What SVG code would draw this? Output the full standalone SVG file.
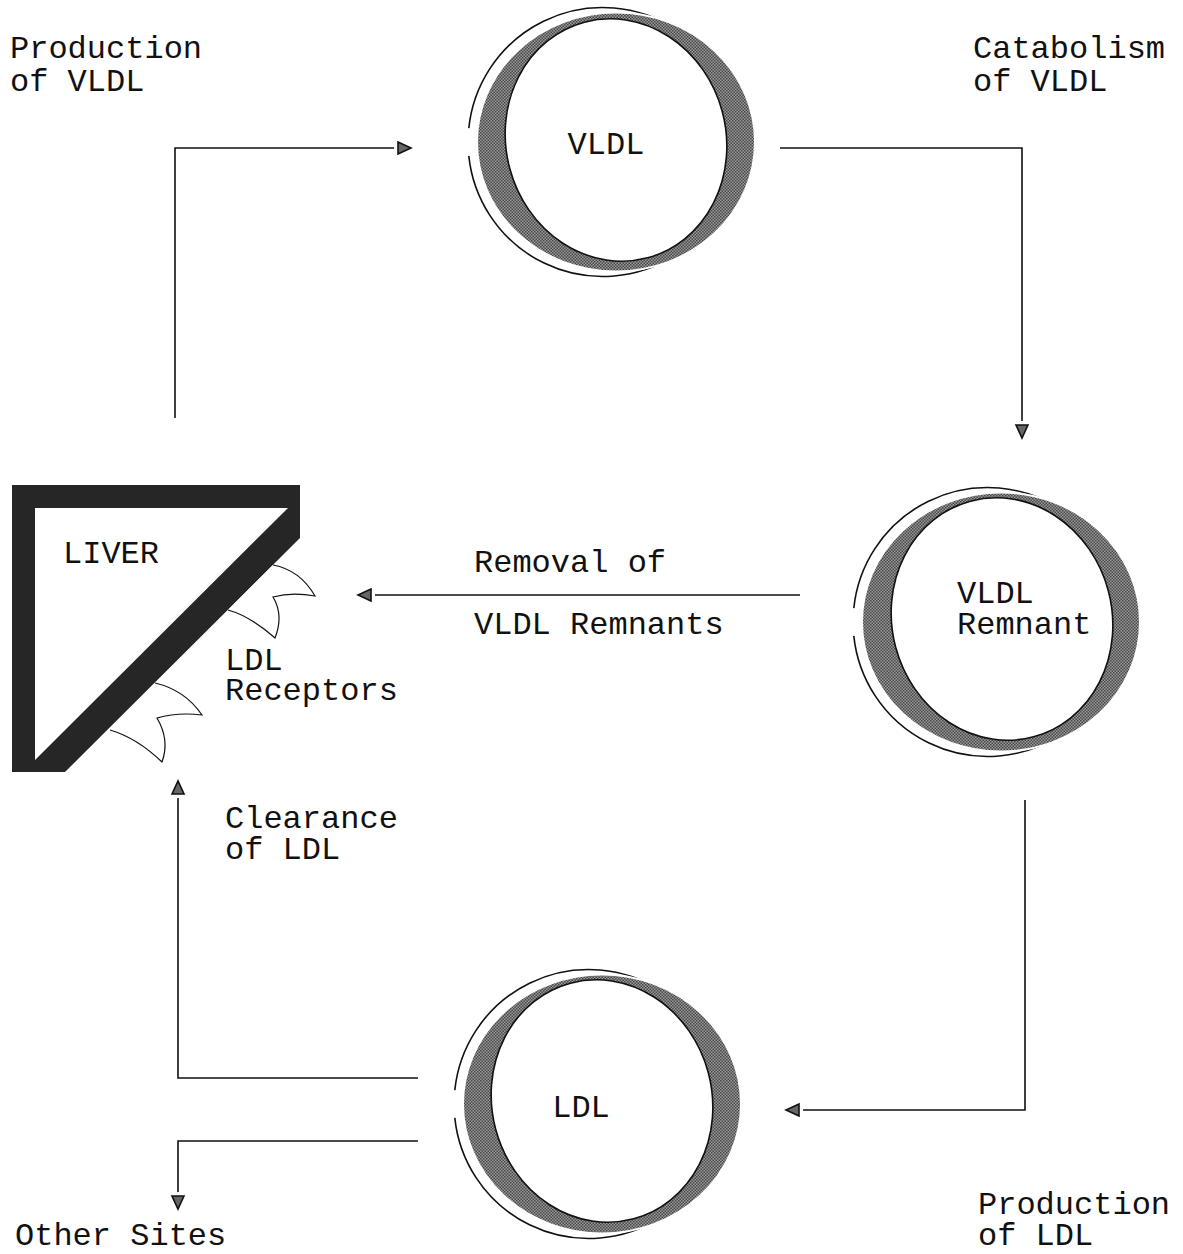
<svg xmlns="http://www.w3.org/2000/svg" width="1183" height="1254" viewBox="0 0 1183 1254">
<defs>
<style>
text{font-family:"Liberation Mono","Courier New",monospace;font-size:32px;fill:#111;}
.ln{fill:none;stroke:#111;stroke-width:1.6;}
.outer{fill:none;stroke:#111;stroke-width:1.6;}
.shade{fill:url(#dots);stroke:#fff;stroke-width:2;}
.inner{fill:#fff;stroke:#111;stroke-width:1.6;}
.rec{fill:#fff;stroke:#111;stroke-width:1.2;}
</style>
<pattern id="dots" width="3" height="3" patternUnits="userSpaceOnUse">
<rect width="3" height="3" fill="#9a9a9a"/>
<rect width="1.5" height="1.5" fill="#474747"/>
<rect x="1.5" y="1.5" width="1.5" height="1.5" fill="#474747"/>
</pattern>
<marker id="ah" viewBox="0 0 20 16" markerWidth="20" markerHeight="16" refX="0" refY="8" orient="auto" markerUnits="userSpaceOnUse">
<path d="M4,2 L17,8 L4,14 Z" fill="#666" stroke="#111" stroke-width="1.6"/>
</marker>
</defs>
<rect width="1183" height="1254" fill="#fff"/>

<g id="connectors">
<path class="ln" d="M175,418 V148 H394" marker-end="url(#ah)"/>
<path class="ln" d="M780,148 H1022 V421" marker-end="url(#ah)"/>
<path class="ln" d="M800,595 H375" marker-end="url(#ah)"/>
<path class="ln" d="M1025,800 V1110 H803" marker-end="url(#ah)"/>
<path class="ln" d="M418,1078 H178 V798" marker-end="url(#ah)"/>
<path class="ln" d="M418,1141 H178 V1192" marker-end="url(#ah)"/>
</g>

<g id="liver">
<path d="M12,485 H300 V538 L65,772 H12 Z M35,508 V760 L288,508 Z" fill="#262626" fill-rule="evenodd"/>
<path class="rec" d="M273,565 Q300,570 315,596 Q292,592 273,597 Q284,615 275,638 Q250,616 228,610"/>
<path class="rec" d="M155,683 Q185,690 202,715 Q178,712 157,718 Q170,740 162,762 Q137,738 110,730"/>
<text x="63" y="563">LIVER</text>
</g>

<g id="vldl">
<path class="outer" d="M468.8,128.1 A134.5,134.5 0 1 1 468.8,155.9"/>
<ellipse class="shade" cx="616" cy="142" rx="139" ry="129.5"/>
<ellipse class="inner" cx="0" cy="0" rx="110" ry="122" transform="translate(616,140) rotate(-15)"/>
<text x="606" y="154" text-anchor="middle">VLDL</text>
</g>

<g id="vldl-remnant">
<path class="outer" d="M853.8,608.1 A134.5,134.5 0 1 1 853.8,635.9"/>
<ellipse class="shade" cx="1001" cy="622" rx="139" ry="129.5"/>
<ellipse class="inner" cx="0" cy="0" rx="110" ry="122" transform="translate(1002,619) rotate(-15)"/>
<text x="957" y="603">VLDL</text>
<text x="957" y="634">Remnant</text>
</g>

<g id="ldl">
<path class="outer" d="M454.8,1090.1 A134.5,134.5 0 1 1 454.8,1117.9"/>
<ellipse class="shade" cx="602" cy="1104" rx="139" ry="129.5"/>
<ellipse class="inner" cx="0" cy="0" rx="110" ry="122" transform="translate(602,1101) rotate(-15)"/>
<text x="581" y="1117" text-anchor="middle">LDL</text>
</g>

<g id="labels">
<text x="10" y="58">Production</text>
<text x="10" y="91">of VLDL</text>
<text x="973" y="58">Catabolism</text>
<text x="973" y="91">of VLDL</text>
<text x="474" y="572">Removal of</text>
<text x="474" y="634">VLDL Remnants</text>
<text x="225" y="670">LDL</text>
<text x="225" y="700">Receptors</text>
<text x="225" y="828">Clearance</text>
<text x="225" y="859">of LDL</text>
<text x="15" y="1245">Other Sites</text>
<text x="978" y="1214">Production</text>
<text x="978" y="1245">of LDL</text>
</g>
</svg>
